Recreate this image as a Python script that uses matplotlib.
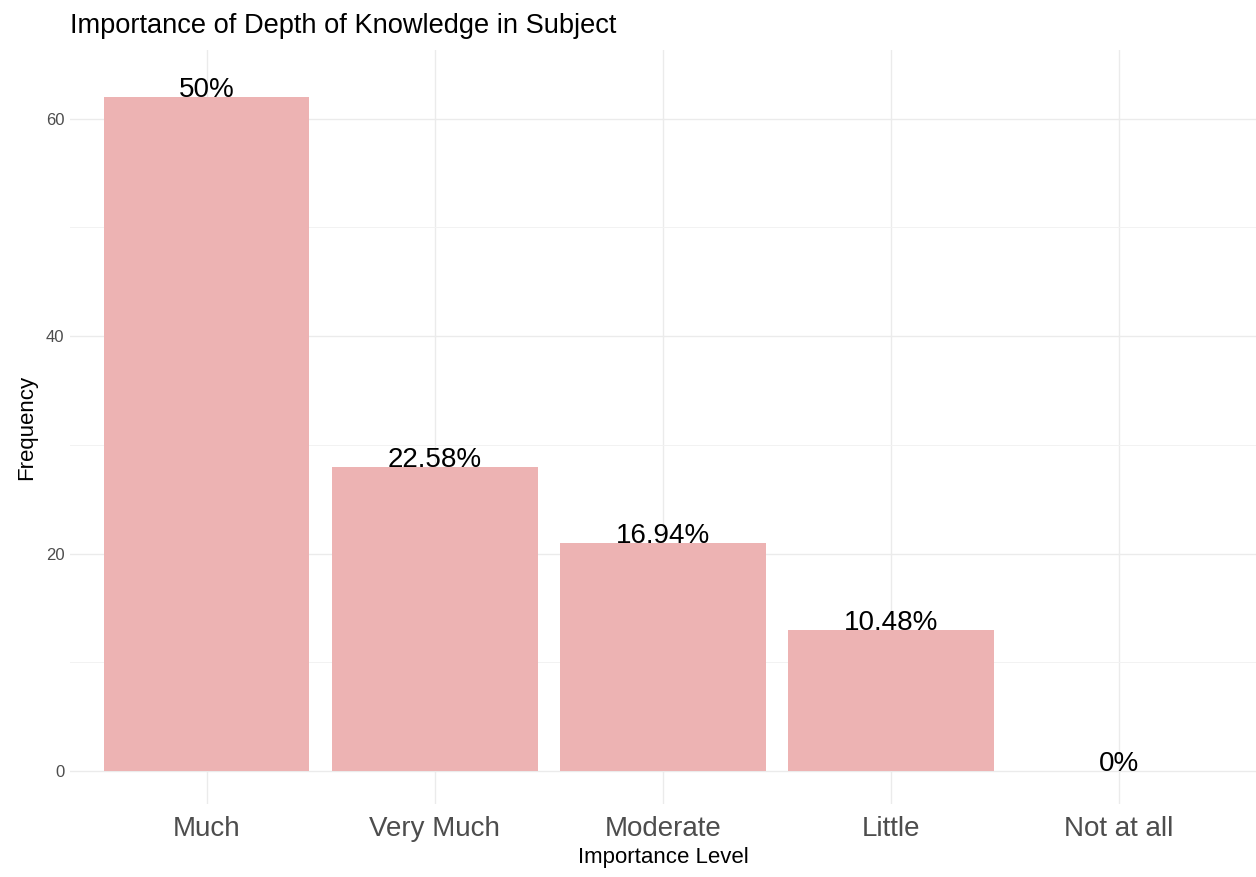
import matplotlib
matplotlib.use("Agg")
import matplotlib.pyplot as plt

categories = ["Much", "Very Much", "Moderate", "Little", "Not at all"]
counts = [62, 28, 21, 13, 0]
labels = ["50%", "22.58%", "16.94%", "10.48%", "0%"]
y_ticks = [0, 20, 40, 60]

plt.rcParams['font.family'] = ['Liberation Sans', 'DejaVu Sans']

W, H = 1256, 877
fig = plt.figure(figsize=(W / 100, H / 100), dpi=100)
left, right, top, bottom = 70, 1256, 50, 804
ax = fig.add_axes([left / W, 1 - bottom / H, (right - left) / W, (bottom - top) / H])

x = list(range(1, len(categories) + 1))
ax.bar(x, counts, width=0.9, color="#EDB3B3", zorder=2)
for xi, c, lab in zip(x, counts, labels):
    ax.text(xi, c, lab, ha="center", va="baseline", fontsize=20, color="black", zorder=3)

ax.set_xlim(0.4, 5.6)
ax.set_ylim(-3.03, 66.3)
ax.set_xticks(x)
ax.set_xticklabels(categories, fontsize=20, color="#4D4D4D")
ax.set_yticks(y_ticks)
ax.set_yticklabels([str(v) for v in y_ticks], fontsize=12, color="#4D4D4D")
ax.set_yticks([10, 30, 50], minor=True)
ax.grid(True, which="major", color="#EBEBEB", linewidth=1.0, zorder=0)
ax.grid(True, which="minor", axis="y", color="#F2F2F2", linewidth=0.7, zorder=0)
ax.tick_params(axis="both", which="both", length=0)
ax.tick_params(axis="x", pad=9)
ax.tick_params(axis="y", pad=4)
for s in ax.spines.values():
    s.set_visible(False)

ax.set_xlabel("Importance Level", fontsize=16, color="black", labelpad=3)
ax.set_ylabel("Frequency", fontsize=16, color="black", labelpad=6)
fig.text(left / W, 1 - 26 / H, "Importance of Depth of Knowledge in Subject",
         fontsize=19.6, ha="left", va="center", color="black")

fig.savefig("out.png", dpi=100)
